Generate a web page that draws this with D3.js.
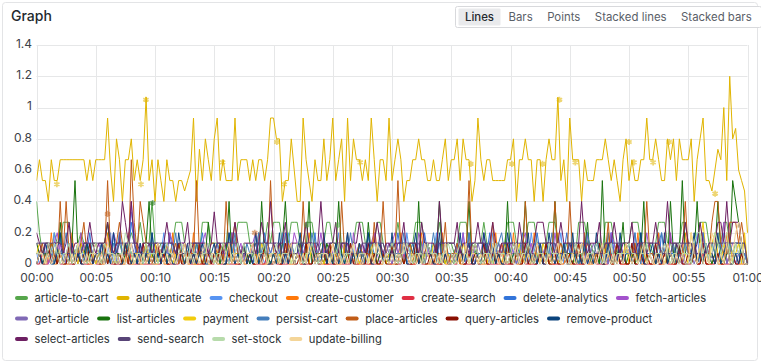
<!DOCTYPE html>
<html>
<head>
<meta charset="utf-8">
<script src="https://cdn.jsdelivr.net/npm/d3@7"></script>
<style>
  html, body { margin: 0; padding: 0; background: #fff; }
  svg { display: block; font-family: Inter, "Noto Sans", sans-serif; }
</style>
</head>
<body>
<svg id="chart" width="761" height="363"></svg>
<script>
// request counts per 15 s window, 00:00 -> 01:00 (241 samples each)
const WINDOW = 15;

const seriesNames = ["article-to-cart", "authenticate", "checkout", "create-customer", "create-search",
  "delete-analytics", "fetch-articles", "get-article", "list-articles", "payment", "persist-cart",
  "place-articles", "query-articles", "remove-product", "select-articles", "send-search", "set-stock",
  "update-billing"];

const seriesColors = ["#56A64B", "#E0B400", "#5794F2", "#FF780A", "#E02F44", "#3274D9", "#A352CC",
  "#8069B5", "#19730E", "#F2CC0C", "#447EBC", "#C15C17", "#890F02", "#0A437C", "#6D1F62", "#584477",
  "#B7DBAB", "#F4D598"];

const yTicks = [0, 0.2, 0.4, 0.6, 0.8, 1, 1.2, 1.4];
const viewButtons = ["Lines", "Bars", "Points", "Stacked lines", "Stacked bars"];

const articleToCart = [
  6,3,1,2,2,1,3,2,2,4,4,4,2,1,2,3,2,2,1,2, 2,1,2,2,4,2,1,2,2,1,1,2,3,2,2,4,2,2,2,6,
  2,1,2,2,1,1,2,4,4,4,2,1,1,2,2,1,4,4,4,2, 2,2,1,1,2,2,1,2,4,4,4,4,2,1,2,2,1,2,4,2,
  4,4,4,2,1,2,4,4,4,2,2,4,4,4,2,1,2,2,4,4, 2,2,1,2,2,1,1,2,4,4,4,2,1,2,2,4,4,2,1,2,
  1,2,4,2,2,1,1,2,4,4,4,2,2,1,2,2,4,2,1,2, 2,1,2,4,4,4,2,2,1,2,2,4,2,2,1,2,2,1,2,4,
  4,4,2,1,2,2,4,4,4,2,1,2,2,4,4,4,2,2,1,2, 2,2,1,4,4,4,2,2,1,2,2,1,4,4,4,2,1,2,2,2,
  2,4,4,4,2,1,2,2,1,2,4,4,4,2,2,1,2,2,4,4, 2,1,2,2,4,4,4,2,2,1,2,2,4,4,2,1,2,2,1,1, 0];

const authenticate = [
  8,10,8,8,6,10,8,8,10,10, 10,10,10,10,10,10,10,8,10,8, 10,10,10,10,14,9,6,12,10,6,
  10,10,12,8,10,8,10,16,8,10, 6,10,8,6,10,8,8,6,8,8, 7,8,9,14,6,11,8,12,10,8,
  12,14,8,10,8,8,8,14,8,10, 10,10,8,10,8,10,10,8,10,14, 14,12,12,6,8,8,12,9,6,6,
  14,10,8,6,10,8,8,12,8,10, 14,8,10,12,6,14,8,12,10,10, 8,10,8,14,10,6,10,10,8,14,
  8,10,12,10,6,8,8,10,10,12, 10,10,8,8,10,8,8,10,12,8, 10,10,12,8,12,10,10,6,8,14,
  10,8,10,10,8,8,8,8,8,10, 10,12,6,10,10,12,10,10,6,10, 10,6,10,12,10,10,16,8,10,6,
  14,10,10,10,6,10,8,8,8,10, 10,10,12,10,8,10,8,6,10,12, 8,10,8,8,10,10,14,10,10,12,
  10,8,8,12,10,12,8,12,10,10, 10,12,6,10,12,14,8,8,7,9, 11,10,15,8,18,12,13,9,8,7,3];

const checkout = [
  1,0,1,1,0,1,3,0,1,1,0,1,0,1,1,0,1,2,0,1, 0,1,1,0,1,3,0,1,1,1,0,1,5,3,1,0,1,1,0,1,
  1,0,1,3,0,1,1,0,1,0,1,1,0,2,1,0,1,1,0,1, 0,1,1,0,1,3,0,1,1,0,1,1,0,1,0,3,1,0,1,1,
  1,0,1,1,0,3,1,0,1,1,0,1,2,0,1,1,0,1,0,1, 0,1,3,0,1,1,0,1,1,0,1,0,3,1,0,1,1,0,1,1,
  1,0,1,1,0,3,1,0,1,1,0,1,1,0,1,3,0,1,0,1, 1,1,0,1,3,0,1,1,0,1,0,1,1,0,3,1,0,1,1,0,
  0,1,1,0,1,1,0,3,1,0,1,1,0,1,1,0,1,3,0,1, 1,0,1,1,0,3,1,0,1,1,0,1,0,1,3,1,0,1,1,0,
  0,1,3,0,1,1,0,1,1,0,3,1,0,1,1,0,1,0,1,1, 1,0,1,3,0,1,1,0,1,0,1,1,3,0,1,1,0,1,0,1, 0];

const createCustomer = [
  0,1,0,1,0,3,0,0,1,0,0,0,3,0,1,0,1,0,0,0, 1,0,0,0,3,1,0,1,0,0,0,3,0,0,1,0,0,1,0,1,
  0,0,1,0,0,0,3,0,1,0,1,0,0,3,0,0,0,1,0,0, 1,0,0,1,0,0,3,0,0,1,0,0,1,0,0,3,0,0,0,1,
  0,1,0,0,3,0,0,0,1,0,0,0,3,1,0,1,0,0,0,0, 1,0,0,0,1,3,0,1,0,0,0,1,0,0,3,0,0,0,1,0,
  0,0,0,3,0,1,0,0,0,1,3,0,0,0,1,0,0,3,0,0, 1,0,1,0,0,0,3,0,0,1,0,0,0,1,0,3,0,0,1,0,
  0,3,0,0,0,1,0,0,3,0,1,0,1,0,0,0,3,0,0,1, 0,0,1,0,0,3,0,0,0,1,1,0,0,3,0,0,1,0,0,0,
  0,1,0,3,0,0,1,0,0,0,3,0,0,1,0,0,0,1,0,3, 1,0,1,0,0,3,0,0,0,1,0,0,0,3,0,0,1,0,0,0, 0];

const createSearch = [
  0,0,1,0,0,1,0,1,0,0,1,0,0,0,2,0,0,0,0,1, 0,0,1,0,1,0,0,0,0,0,2,0,1,0,0,1,0,0,0,0,
  1,0,0,1,0,0,0,0,0,1,0,1,0,0,0,0,0,0,2,0, 0,1,0,0,1,0,0,0,0,0,1,0,1,0,0,0,0,0,1,0,
  1,0,0,0,0,0,1,0,1,0,0,0,0,0,2,0,1,0,0,0, 0,0,1,0,0,0,0,1,0,0,1,0,0,0,0,0,1,0,1,0,
  0,1,0,0,1,0,0,0,0,1,0,0,1,0,0,0,0,0,1,0, 1,0,0,1,0,0,0,0,0,1,0,1,0,0,0,0,0,2,0,0,
  0,0,1,0,1,0,0,0,0,0,1,0,0,1,0,0,0,0,1,0, 1,0,0,0,0,0,1,0,1,0,0,0,0,0,1,0,1,0,0,0,
  0,1,0,0,1,0,0,0,0,1,0,0,1,0,0,0,0,1,0,0, 0,0,1,0,0,1,0,0,0,0,1,0,0,0,0,1,0,0,1,0, 0];

const deleteAnalytics = [
  0,1,1,1,1,0,2,1,3,0,1,1,1,1,0,2,0,1,3,0, 1,1,1,1,0,1,3,0,1,1,1,1,4,2,0,1,1,1,1,0,
  1,1,0,1,1,3,1,0,1,1,1,1,1,0,1,1,3,1,0,1, 1,1,1,1,1,0,3,1,0,1,1,1,1,0,1,1,1,3,1,0,
  1,1,1,0,3,1,1,1,1,0,1,1,1,1,3,0,1,1,1,1, 1,1,1,0,1,3,0,1,1,1,1,1,3,1,0,1,1,1,1,0,
  1,1,3,1,0,1,1,1,1,1,0,3,1,0,1,1,1,1,1,1, 0,1,1,1,1,0,3,1,1,1,1,0,1,3,0,1,1,1,1,1,
  3,1,0,1,1,1,1,1,1,3,1,0,1,1,1,1,0,1,1,3, 1,1,1,0,1,1,3,1,0,1,1,1,1,0,3,1,1,1,1,1,
  1,1,1,1,3,0,1,1,1,1,0,3,1,1,1,1,0,1,1,1, 1,1,1,0,1,3,1,1,1,0,1,1,2,2,2,2,2,2,2,2, 0];

const fetchArticles = [
  2,1,2,2,0,1,2,3,1,0,1,2,1,1,0,3,1,2,2,1, 1,2,1,2,2,1,3,2,0,1,2,2,6,2,1,0,1,2,1,1,
  1,2,0,1,1,3,2,1,0,2,2,1,1,0,1,2,2,3,1,0, 1,1,2,0,2,1,3,2,1,2,0,1,1,2,3,1,0,1,2,1,
  2,2,1,0,1,2,1,3,2,0,1,2,2,1,0,1,3,1,2,2, 1,0,1,2,1,2,0,3,1,1,2,0,1,2,3,1,0,1,1,2,
  2,3,1,0,1,2,1,1,0,3,2,1,2,0,1,1,2,2,1,0, 1,1,2,0,3,1,2,0,2,1,1,3,1,0,1,2,1,1,0,1,
  2,1,1,0,2,3,1,2,0,1,1,1,2,2,0,3,1,1,2,1, 0,1,1,2,2,0,3,1,1,2,1,0,1,1,3,2,0,2,1,1,
  1,2,2,0,1,1,3,1,0,2,2,1,1,0,3,1,2,1,0,1, 1,0,2,1,1,3,1,0,1,2,1,1,4,0,1,2,2,1,1,0, 0];

const getArticle = [
  1,1,0,1,2,1,0,1,1,2,0,1,1,0,1,1,2,0,1,1, 0,1,2,1,0,1,1,0,3,1,1,0,2,1,0,1,1,2,0,1,
  1,0,1,1,2,0,1,0,1,1,2,0,1,1,0,1,2,1,0,1, 1,2,0,1,1,0,1,1,2,0,1,1,0,2,1,0,1,1,0,1,
  0,1,1,2,0,1,1,0,1,2,1,0,1,1,0,1,0,2,1,1, 1,0,1,0,2,1,1,0,1,1,0,2,1,1,0,1,1,0,2,1,
  0,1,1,2,0,1,1,0,1,1,2,0,1,0,1,1,2,0,1,1, 1,0,2,1,1,0,1,1,0,2,1,0,1,1,0,1,2,1,0,1,
  1,1,0,1,2,0,1,1,1,0,2,1,0,1,1,2,0,1,1,0, 0,2,1,0,1,1,0,1,2,1,0,1,1,0,2,1,1,0,1,1,
  1,0,1,2,1,0,1,1,0,1,2,1,0,1,1,0,1,2,0,1, 2,1,0,1,1,0,2,1,1,0,1,1,2,0,1,1,0,1,1,0, 0];

const listArticles = [
  2,1,0,1,1,2,1,0,4,1,1,0,2,8,1,0,1,2,0,1, 1,1,0,2,4,1,0,1,1,0,1,2,1,0,1,1,0,2,6,1,
  0,1,1,2,0,1,1,0,2,1,0,1,1,0,2,1,0,1,4,0, 1,1,0,2,1,6,0,1,1,0,2,1,0,1,1,0,6,1,1,0,
  1,1,0,2,6,1,1,0,1,2,0,1,6,0,1,1,1,0,2,1, 0,1,6,1,0,1,1,1,0,2,1,0,4,1,1,0,1,1,0,1,
  2,0,1,1,0,1,2,1,0,6,0,1,1,1,0,1,6,1,0,1, 1,0,1,1,0,1,6,0,1,1,1,0,2,1,0,1,1,1,0,6,
  0,1,1,0,1,6,1,0,1,1,0,1,1,1,0,6,1,0,1,1, 1,0,1,0,1,1,4,0,1,1,0,8,1,1,0,1,1,1,4,0,
  1,1,0,1,1,6,0,1,1,0,1,1,1,0,6,1,0,1,8,1, 1,0,1,6,1,0,1,1,0,1,6,1,0,1,1,8,6,4,2,0, 0];

const payment = [
  1,2,1,0,1,1,0,2,1,0,1,0,1,1,0,2,1,0,1,1, 0,1,1,2,0,1,1,0,1,0,2,1,0,1,1,0,1,2,0,1,
  2,0,1,1,0,1,0,1,2,1,0,1,1,0,0,2,1,0,1,1, 0,1,2,0,1,1,0,1,1,0,2,0,1,1,1,0,2,1,0,1,
  1,0,1,0,1,2,0,1,1,0,1,1,0,2,1,0,1,0,1,2, 0,1,1,0,2,1,0,1,1,0,1,1,0,2,0,1,1,1,0,1,
  2,0,1,1,0,1,2,0,1,1,0,1,1,0,2,1,0,1,0,1, 0,1,1,0,2,1,0,1,1,0,1,2,0,1,0,1,1,0,2,1,
  1,0,1,2,0,1,1,0,1,1,0,2,1,0,1,1,0,1,2,0, 1,1,0,1,2,0,1,1,0,1,1,0,2,1,0,1,0,1,1,2,
  0,1,2,0,1,1,0,1,1,0,2,1,0,1,1,0,2,0,1,1, 0,3,1,0,2,4,1,0,2,3,1,0,2,1,3,0,1,2,0,3, 0];

const persistCart = [
  1,1,1,2,1,1,0,2,1,1,3,1,1,1,2,0,1,1,2,1, 1,1,2,1,1,0,2,1,3,1,1,2,1,1,0,2,1,1,1,3,
  1,1,0,2,1,1,1,3,0,1,2,1,1,0,2,1,1,1,2,0, 1,2,1,1,0,2,1,3,1,1,0,2,1,1,1,3,0,1,2,1,
  2,1,1,3,0,1,2,1,1,0,2,1,1,3,1,0,1,2,1,1, 1,1,2,0,1,1,3,1,1,2,1,0,1,2,1,1,3,0,1,1,
  2,1,1,1,3,0,1,2,1,1,0,2,1,1,3,1,0,1,2,1, 1,1,2,1,0,1,3,1,2,1,1,1,2,0,1,1,2,3,1,1,
  1,2,1,1,3,1,0,1,2,1,1,0,2,1,3,1,1,0,2,1, 2,1,1,0,2,1,3,1,1,2,1,1,0,3,1,1,2,1,0,1,
  1,1,3,1,0,2,1,1,1,0,2,3,1,1,1,2,0,1,1,2, 1,1,2,0,1,3,1,1,2,1,0,2,1,1,2,1,1,1,1,1, 0];

const placeArticles = [
  1,1,2,0,1,2,1,0,6,1,6,1,0,1,1,2,4,1,0,1, 2,1,0,1,8,1,1,2,4,2,1,0,10,4,1,6,4,2,1,0,
  1,2,1,0,2,1,1,2,0,1,2,1,1,1,8,1,0,1,1,2, 2,1,1,0,6,1,2,4,1,1,0,1,1,2,1,0,1,1,0,8,
  1,1,2,0,1,2,1,1,1,0,6,1,1,2,0,1,1,2,0,1, 2,1,0,6,1,1,2,0,1,2,1,1,1,0,4,1,1,6,1,0,
  2,1,8,1,0,1,2,1,1,0,1,1,2,1,0,1,1,1,4,0, 1,1,2,0,1,1,8,1,2,1,0,1,1,1,4,0,1,2,1,0,
  1,2,1,1,0,6,1,1,0,2,1,1,1,0,1,6,1,2,1,0, 6,1,1,2,0,1,2,1,0,1,1,1,1,4,0,1,2,1,0,2,
  1,1,2,0,2,1,6,1,1,0,1,1,1,2,1,0,1,1,1,6, 1,1,2,0,1,1,1,1,4,6,6,2,1,1,4,4,4,2,4,2, 0];

const queryArticles = [
  0,1,0,0,2,0,1,0,1,0,0,2,0,0,1,0,1,0,2,0, 1,0,0,2,0,1,0,0,1,0,2,0,0,1,0,0,2,0,1,0,
  0,2,0,1,0,0,1,0,2,0,0,1,0,1,0,2,0,0,1,0, 1,0,2,0,0,1,0,1,0,0,2,0,1,0,0,1,0,2,0,0,
  0,1,0,0,2,0,1,0,0,1,0,2,0,0,1,0,0,1,0,2, 0,0,1,0,1,0,2,0,0,1,0,0,2,0,1,0,0,1,0,0,
  2,0,0,1,0,1,0,0,2,0,1,0,0,1,0,2,0,0,1,0, 0,1,0,2,0,0,1,0,1,0,0,2,0,0,1,0,1,0,0,2,
  0,0,1,0,0,2,0,1,0,0,1,0,2,0,0,1,0,0,1,0, 1,0,0,2,0,0,1,0,1,0,2,0,0,1,0,0,2,0,1,0,
  0,2,0,0,1,0,1,0,0,2,0,0,1,0,1,0,0,2,0,0, 1,0,1,0,0,2,0,0,1,0,1,0,0,2,0,1,0,0,1,0, 0];

const removeProduct = [
  0,1,0,2,1,0,0,1,3,0,1,0,2,0,1,0,0,2,1,0, 1,0,2,0,1,0,3,1,0,0,2,1,0,1,0,2,0,1,0,3,
  0,1,0,2,0,1,0,0,3,1,0,2,0,1,0,1,2,0,0,1, 2,0,1,0,0,3,1,0,1,0,2,0,1,0,3,0,1,2,0,0,
  1,0,3,0,1,0,2,0,1,3,0,0,1,2,0,1,0,3,0,1, 0,2,0,1,0,3,0,1,0,2,0,1,3,0,0,1,2,0,1,0,
  3,0,1,0,2,0,0,1,3,0,1,0,2,1,0,0,3,0,1,0, 0,1,0,3,0,1,2,0,0,1,0,3,1,0,2,0,1,0,0,3,
  1,0,2,0,1,0,3,0,1,0,2,0,0,3,1,0,1,0,2,0, 0,3,0,1,0,2,0,1,0,3,1,0,0,2,0,1,0,3,0,1,
  2,0,1,0,3,0,0,1,2,0,1,0,3,0,1,0,2,0,1,0, 0,1,3,0,1,0,2,0,1,0,3,0,1,2,0,0,1,0,2,0, 0];

const selectArticles = [
  3,2,1,2,2,1,2,2,2,1,2,4,1,2,2,1,2,2,4,2, 1,2,2,2,4,2,1,2,2,6,4,2,6,2,2,1,2,2,2,1,
  2,2,1,2,4,2,2,1,2,2,2,4,1,2,2,2,2,2,1,2, 5,2,2,1,2,2,2,4,2,1,2,2,2,2,1,2,4,2,2,6,
  2,1,2,2,4,1,2,2,2,1,2,4,2,2,1,2,6,2,1,2, 2,4,1,2,2,2,1,2,2,4,2,1,2,2,2,4,2,1,2,2,
  1,2,2,2,4,1,2,2,2,1,4,2,2,2,2,1,6,2,2,2, 2,2,4,1,2,2,1,2,2,4,2,2,1,2,4,2,1,2,2,2,
  2,2,1,4,2,2,2,1,2,4,4,4,2,2,2,1,2,4,2,2, 2,1,2,2,6,2,1,2,2,2,4,1,2,2,2,4,2,1,2,2,
  2,4,1,2,2,2,1,2,2,4,2,1,2,6,2,2,2,1,2,4, 2,2,1,2,4,2,1,2,2,2,4,4,2,6,2,4,4,4,2,0, 0];

const sendSearch = [
  2,2,2,2,2,2,2,2,2,1,1,1,1,1,1,1,2,2,2,2, 2,2,2,1,1,1,1,1,2,2,2,2,2,2,1,1,1,1,2,2,
  2,2,2,2,2,2,2,1,1,1,1,2,2,2,2,2,1,1,1,1, 1,2,2,2,2,2,2,2,2,1,1,1,1,1,2,2,2,2,2,2,
  2,2,2,1,1,1,1,1,1,2,2,2,2,2,2,2,1,1,1,2, 2,2,2,2,2,1,1,1,1,1,2,2,2,2,2,2,2,2,1,1,
  1,1,2,2,2,2,2,2,2,2,1,1,1,1,1,2,2,2,2,2, 2,2,1,1,1,1,2,2,2,2,2,2,2,1,1,1,1,1,2,2,
  2,2,2,2,2,1,1,1,1,2,2,2,2,2,2,2,1,1,1,1, 2,2,2,2,2,2,2,1,1,1,1,1,2,2,2,2,2,2,2,2,
  1,1,1,1,2,2,2,2,2,2,2,1,1,1,1,2,2,2,2,2, 2,2,1,1,1,1,1,2,2,2,2,2,2,2,2,2,2,2,2,2, 0];

const setStock = [
  1,1,1,0,2,1,2,1,0,1,1,2,0,1,2,1,1,0,1,1, 2,1,0,2,1,1,1,0,1,1,3,2,1,0,1,1,0,2,1,1,
  1,0,1,1,2,1,1,0,1,2,1,0,2,1,1,0,1,1,2,1, 0,1,1,2,1,0,1,1,2,0,2,1,1,1,0,1,1,2,0,1,
  1,2,0,1,1,1,0,1,2,1,0,1,1,2,1,0,1,1,1,0, 1,1,2,0,1,1,1,2,0,1,1,1,0,1,2,1,1,0,1,1,
  2,1,0,1,1,2,1,0,1,1,1,0,2,1,1,1,0,1,1,2, 1,0,1,2,1,1,0,1,2,1,0,1,1,1,0,2,1,1,1,0,
  1,2,1,0,1,1,2,1,0,1,1,1,0,2,1,1,1,0,1,1, 0,1,2,1,1,0,1,1,1,2,1,0,1,1,2,0,1,1,1,1,
  2,1,1,0,1,1,2,1,0,1,1,1,2,1,0,1,1,2,1,1, 1,0,2,3,3,1,2,0,1,3,2,1,2,3,1,0,2,1,2,0, 0];

const updateBilling = [
  0,1,1,0,1,0,1,2,1,0,1,0,1,0,2,1,0,1,0,1, 1,0,1,0,2,1,0,1,0,1,0,1,2,0,1,0,1,0,1,0,
  0,2,1,0,1,0,1,0,1,1,2,0,1,0,1,0,1,2,0,1, 1,0,1,0,1,2,0,1,0,1,0,1,1,2,0,1,0,1,0,1,
  0,1,0,1,0,1,2,0,1,0,1,0,2,1,0,1,0,1,1,0, 2,0,1,0,1,0,1,2,0,1,0,1,0,1,0,2,1,0,1,0,
  1,0,1,0,2,1,0,1,0,1,0,2,1,0,1,0,1,0,2,0, 0,1,0,1,0,2,0,1,1,0,1,0,1,0,2,1,0,1,0,1,
  1,0,2,0,1,0,1,0,1,2,0,1,0,1,0,1,2,0,1,0, 0,1,0,1,2,0,1,0,1,0,1,2,0,1,0,1,0,1,0,2,
  1,0,1,0,1,2,0,1,0,1,0,1,0,2,1,0,1,0,1,0, 0,3,1,0,2,0,1,0,3,2,0,1,0,2,0,1,3,4,2,0, 0];

const seriesCounts = [articleToCart, authenticate, checkout, createCustomer, createSearch,
  deleteAnalytics, fetchArticles, getArticle, listArticles, payment, persistCart, placeArticles,
  queryArticles, removeProduct, selectArticles, sendSearch, setStock, updateBilling];

// exemplar markers: series index, seconds after 00:00, value
const exemplarSeries = [1, 1, 1, 1, 1, 1, 1, 1, 1, 1, 1, 1, 1, 1, 1, 1, 1, 6, 11, 8, 0, 0, 11];
const exemplarSeconds = [103, 529, 554, 942, 1217, 1254, 1639, 2199, 2407, 2562, 2648, 2728, 3000,
  3025, 3122, 3203, 3436, 117, 360, 588, 1368, 1526, 1105];
const exemplarValues = [0.51, 0.51, 1.05, 0.65, 0.78, 0.51, 0.65, 0.64, 0.64, 0.64, 1.05, 0.65, 0.78,
  0.65, 0.65, 0.78, 0.45, 0.11, 0.32, 0.39, 0.25, 0.25, 0.2];

const plot = {left: 36.5, right: 747.5, top: 45, bottom: 264};
const t0 = Date.UTC(2024, 0, 1, 0, 0, 0);
const FONT = 11.4;

const svg = d3.select("#chart");

// panel frame
svg.append("rect")
  .attr("x", 2.5).attr("y", 2.5).attr("width", 755).attr("height", 358)
  .attr("rx", 3).attr("fill", "#fff").attr("stroke", "#e3e4e6");

svg.append("text")
  .attr("x", 11).attr("y", 21)
  .attr("font-size", 14).attr("font-weight", 500).attr("fill", "#24292e")
  .text("Graph");

// view switcher
const btnG = svg.append("g");
const btnBox = btnG.append("rect")
  .attr("y", 6.5).attr("height", 21).attr("rx", 2)
  .attr("fill", "#fff").attr("stroke", "#d8d9dc");
let bx = 465;
const btnPos = [];
viewButtons.forEach((b, i) => {
  const t = btnG.append("text")
    .attr("x", bx).attr("y", 20.5)
    .attr("font-size", FONT)
    .attr("fill", i === 0 ? "#24292e" : "#5a6068")
    .attr("font-weight", i === 0 ? 500 : 400)
    .text(b);
  const w = t.node().getComputedTextLength();
  btnPos.push([bx, w]);
  bx += w + 14.5;
});
btnG.insert("rect", "text")
  .attr("x", btnPos[0][0] - 6.5).attr("y", 8.5)
  .attr("width", btnPos[0][1] + 13).attr("height", 17)
  .attr("rx", 1).attr("fill", "#e9eaec");
const lastB = btnPos[btnPos.length - 1];
btnBox.attr("x", 455.5).attr("width", lastB[0] + lastB[1] + 10 - 455.5);

// scales
const x = d3.scaleUtc()
  .domain([new Date(t0), new Date(t0 + 3600 * 1000)])
  .range([plot.left, plot.right]);
const y = d3.scaleLinear()
  .domain([0, 1.4])
  .range([plot.bottom, plot.top]);

const xTicks = x.ticks(d3.utcMinute.every(5));

// grid
const grid = svg.append("g").attr("stroke", "#e6e7e8").attr("stroke-width", 1);
grid.selectAll("line.h").data(yTicks).join("line")
  .attr("x1", plot.left).attr("x2", plot.right)
  .attr("y1", d => Math.round(y(d)) + 0.5).attr("y2", d => Math.round(y(d)) + 0.5);
grid.selectAll("line.v").data(xTicks).join("line")
  .attr("y1", plot.top).attr("y2", plot.bottom)
  .attr("x1", d => Math.round(x(d)) + 0.5).attr("x2", d => Math.round(x(d)) + 0.5);

// axes (labels only)
const yAxis = svg.append("g")
  .attr("transform", `translate(${plot.left - 4.5},-1.5)`)
  .call(d3.axisLeft(y).tickValues(yTicks).tickSize(0).tickPadding(0)
    .tickFormat(d => String(+d.toFixed(1))));
yAxis.select(".domain").remove();
yAxis.selectAll("text").attr("font-size", 12).attr("fill", "#3d4248")
  .attr("font-family", "Inter, 'Noto Sans', sans-serif");

const xAxis = svg.append("g")
  .attr("transform", `translate(0,${plot.bottom + 9})`)
  .call(d3.axisBottom(x).tickValues(xTicks).tickSize(0).tickPadding(0)
    .tickFormat(d3.utcFormat("%H:%M")));
xAxis.select(".domain").remove();
xAxis.selectAll("text").attr("font-size", 12).attr("fill", "#3d4248")
  .attr("font-family", "Inter, 'Noto Sans', sans-serif");

// series
svg.append("clipPath").attr("id", "plotclip")
  .append("rect").attr("x", plot.left).attr("y", plot.top - 2)
  .attr("width", plot.right - plot.left + 1).attr("height", plot.bottom - plot.top + 3);

const line = d3.line()
  .x((d, i) => x(new Date(t0 + i * WINDOW * 1000)))
  .y(d => y(d / WINDOW));

const seriesG = svg.append("g").attr("clip-path", "url(#plotclip)");
seriesG.selectAll("path").data(seriesCounts).join("path")
  .attr("d", line)
  .attr("fill", "none")
  .attr("stroke", (d, i) => seriesColors[i])
  .attr("stroke-width", 1)
  .attr("stroke-linejoin", "round");

// exemplars
const star = d3.symbol().type(d3.symbolAsterisk).size(26);
seriesG.selectAll("path.ex").data(exemplarSeconds).join("path")
  .attr("class", "ex")
  .attr("d", star)
  .attr("transform", (d, i) => `translate(${x(new Date(t0 + d * 1000))},${y(exemplarValues[i])})`)
  .attr("fill", "none")
  .attr("stroke", (d, i) => seriesColors[exemplarSeries[i]])
  .attr("stroke-opacity", 0.55)
  .attr("stroke-width", 1.8);

// legend
const legend = svg.append("g");
let lx = 15, ly = 298;
const legendMaxX = 745;
seriesNames.forEach((name, i) => {
  const item = legend.append("g");
  const t = item.append("text")
    .attr("x", 19.5).attr("y", 4.3)
    .attr("font-size", 11.2).attr("fill", "#2c3235")
    .text(name);
  const w = t.node().getComputedTextLength();
  if (lx + 19.5 + w > legendMaxX) { lx = 15; ly += 20.5; }
  item.attr("transform", `translate(${lx},${ly})`);
  item.append("rect")
    .attr("x", 0).attr("y", -2).attr("width", 13).attr("height", 4).attr("rx", 2)
    .attr("fill", seriesColors[i]);
  lx += 19.5 + w + 8;
});
</script>
</body>
</html>
